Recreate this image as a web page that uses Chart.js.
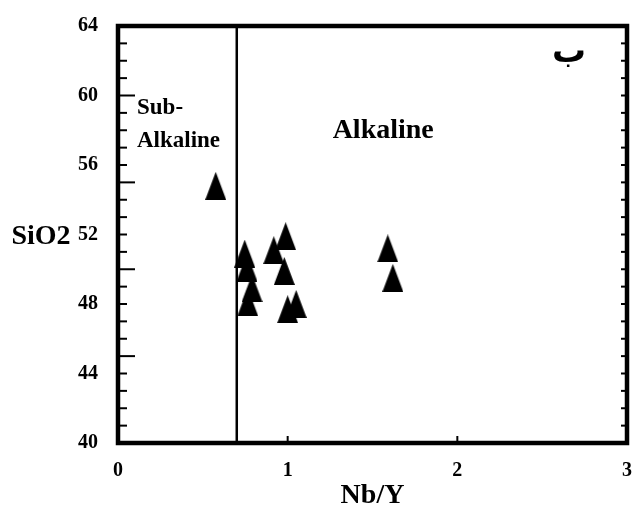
<!DOCTYPE html>
<html>
<head>
<meta charset="utf-8">
<script src="https://cdn.jsdelivr.net/npm/chart.js@4/dist/chart.umd.min.js"></script>
<style>
  html, body { margin: 0; padding: 0; background: #fff; overflow: hidden; }
  #wrap { width: 640px; height: 523px; position: relative; }
</style>
</head>
<body>
<div id="wrap"><canvas id="c"></canvas></div>
<script>
// ---- data ----
const nbY  = [0.576, 0.747, 0.760, 0.790, 0.765, 0.918, 0.988, 0.980, 1.050, 1.000, 1.590, 1.620];
const sio2 = [54.8, 50.9, 50.1, 48.9, 48.1, 51.1, 51.9, 49.9, 48.0, 47.7, 51.2, 49.5];
const boundaryX = [0.7, 0.7];
const boundaryY = [40, 64];
const xTickLabels = [0, 1, 2, 3];
const yTickLabels = [40, 44, 48, 52, 56, 60, 64];

// ---- triangle marker ----
const tri = document.createElement('canvas');
tri.width = 21; tri.height = 28;
{
  const t = tri.getContext('2d');
  t.fillStyle = '#000';
  t.beginPath();
  t.moveTo(10.5, 0); t.lineTo(21, 28); t.lineTo(0, 28); t.closePath();
  t.fill();
}

const SERIF = '"Liberation Serif", "Times New Roman", serif';

const annotations = [
  { text: 'Sub-',     x: 0.112, y: 58.94, size: 23, align: 'left', font: SERIF },
  { text: 'Alkaline', x: 0.112, y: 57.05, size: 23, align: 'left', font: SERIF },
  { text: 'Alkaline', x: 1.265, y: 57.56, size: 28, align: 'left', font: SERIF },
  { text: 'ب',        x: 2.76,  y: 61.95, size: 34, align: 'right', font: '"DejaVu Sans", sans-serif' }
];

const framePlugin = {
  id: 'frame',
  afterDraw(chart) {
    const { ctx, chartArea: a, scales: { x, y } } = chart;
    ctx.save();
    ctx.strokeStyle = '#000';
    ctx.lineWidth = 2;
    for (let v = 40; v <= 64; v++) {
      const py = y.getPixelForValue(v);
      const len = (v % 5 === 0) ? 17 : 9;
      ctx.beginPath(); ctx.moveTo(a.left, py); ctx.lineTo(a.left + len, py); ctx.stroke();
      ctx.beginPath(); ctx.moveTo(a.right, py); ctx.lineTo(a.right - 6, py); ctx.stroke();
    }
    for (let v = 1; v <= 2; v++) {
      const px = x.getPixelForValue(v);
      ctx.beginPath(); ctx.moveTo(px, a.bottom); ctx.lineTo(px, a.bottom - 7); ctx.stroke();
    }
    ctx.lineWidth = 4.5;
    ctx.strokeRect(a.left, a.top, a.right - a.left, a.bottom - a.top);
    ctx.fillStyle = '#000';
    ctx.textBaseline = 'alphabetic';
    for (const an of annotations) {
      ctx.font = 'bold ' + an.size + 'px ' + an.font;
      ctx.textAlign = an.align;
      ctx.fillText(an.text, x.getPixelForValue(an.x), y.getPixelForValue(an.y));
    }
    ctx.font = 'bold 28px ' + SERIF;
    ctx.textAlign = 'center';
    ctx.textBaseline = 'middle';
    ctx.fillText('SiO2', a.left - 77, (a.top + a.bottom) / 2 + 2);
    ctx.restore();
  }
};

new Chart(document.getElementById('c'), {
  type: 'scatter',
  data: {
    datasets: [
      {
        type: 'line',
        data: boundaryX.map((v, i) => ({ x: v, y: boundaryY[i] })),
        borderColor: '#000',
        borderWidth: 2.5,
        pointRadius: 0,
        fill: false
      },
      {
        data: nbY.map((v, i) => ({ x: v, y: sio2[i] })),
        pointStyle: tri,
        pointRadius: 10,
        backgroundColor: '#000',
        borderColor: '#000'
      }
    ]
  },
  options: {
    responsive: true,
    maintainAspectRatio: false,
    animation: false,
    layout: { padding: { top: 26, right: 0, left: 0, bottom: 0 } },
    plugins: { legend: { display: false }, tooltip: { enabled: false } },
    scales: {
      x: {
        type: 'linear', min: 0, max: 3,
        grid: { display: false },
        border: { display: false },
        afterFit(s) { s.height = 80; },
        afterBuildTicks(s) { s.ticks = xTickLabels.map(v => ({ value: v })); },
        ticks: { color: '#000', padding: 8, font: { family: SERIF, size: 20, weight: 'bold' } },
        title: { display: true, text: 'Nb/Y', color: '#000', padding: { top: 0, bottom: 10 }, font: { family: SERIF, size: 28, weight: 'bold' } }
      },
      y: {
        type: 'linear', min: 40, max: 64,
        grid: { display: false },
        border: { display: false },
        afterFit(s) { s.width = 118; },
        afterBuildTicks(s) { s.ticks = yTickLabels.map(v => ({ value: v })); },
        ticks: { color: '#000', padding: 12, font: { family: SERIF, size: 20, weight: 'bold' } },
        title: { display: false }
      }
    }
  },
  plugins: [framePlugin]
});
</script>
</body>
</html>
